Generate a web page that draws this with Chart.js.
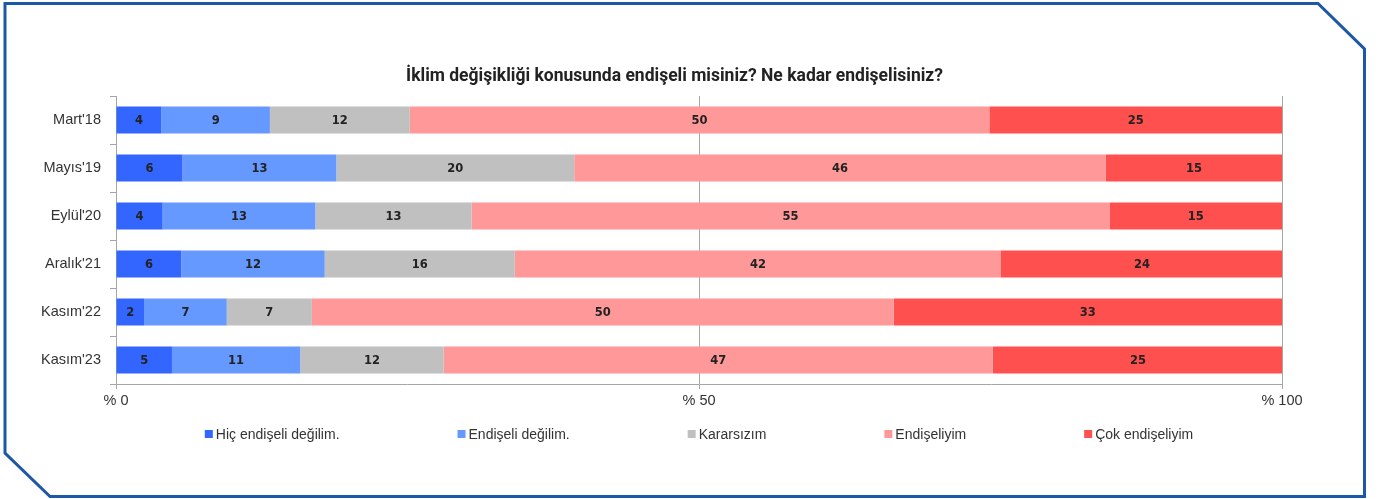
<!DOCTYPE html>
<html><head><meta charset="utf-8">
<script src="https://cdn.jsdelivr.net/npm/chart.js@4.4.1/dist/chart.umd.min.js"></script>
<style>html,body{margin:0;padding:0;background:#fff;} canvas{display:block;}</style>
</head><body>
<canvas id="c" width="1382" height="499"></canvas>
<script>
const categories = ["Mart'18", "Mayıs'19", "Eylül'20", "Aralık'21", "Kasım'22", "Kasım'23"];
const seriesNames = ["Hiç endişeli değilim.", "Endişeli değilim.", "Kararsızım", "Endişeliyim", "Çok endişeliyim"];
const hicEndiseliDegilim = [3.9, 5.7, 4.0, 5.6, 2.4, 4.8];
const endiseliDegilim   = [9.3, 13.2, 13.1, 12.3, 7.1, 11.0];
const kararsizim        = [12.0, 20.4, 13.4, 16.3, 7.3, 12.3];
const endiseliyim       = [49.7, 45.6, 54.7, 41.7, 49.9, 47.1];
const cokEndiseliyim    = [25.1, 15.1, 14.8, 24.2, 33.3, 24.9];
const tickValues = [0, 50, 100];
const tickPrefix = '% ';
const chartTitle = 'İklim değişikliği konusunda endişeli misiniz? Ne kadar endişelisiniz?';
const seriesColors = ['#3366FF', '#6699FF', '#C0C0C0', '#FF9999', '#FF5050'];

const seriesValues = [hicEndiseliDegilim, endiseliDegilim, kararsizim, endiseliyim, cokEndiseliyim];
const datasets = seriesNames.map((name, i) => ({
  label: name,
  data: seriesValues[i],
  backgroundColor: seriesColors[i],
  borderWidth: 0,
  barPercentage: 0.5625,
  categoryPercentage: 1.0
}));

const framePlugin = {
  id: 'frame',
  beforeDraw(chart) {
    const ctx = chart.ctx;
    ctx.save();
    ctx.fillStyle = '#fff';
    ctx.fillRect(0, 0, chart.width, chart.height);
    ctx.strokeStyle = '#1D58A6';
    ctx.lineWidth = 3;
    ctx.beginPath();
    ctx.moveTo(5, 3.5);
    ctx.lineTo(1318, 3.5);
    ctx.lineTo(1364.5, 49);
    ctx.lineTo(1364.5, 496.5);
    ctx.lineTo(50, 496.5);
    ctx.lineTo(5, 453);
    ctx.closePath();
    ctx.stroke();
    ctx.restore();
  }
};

const titlePlugin = {
  id: 'customTitle',
  afterDraw(chart) {
    const ctx = chart.ctx;
    ctx.save();
    ctx.font = 'bold 17.5px Roboto';
    ctx.fillStyle = '#222';
    ctx.textAlign = 'center';
    ctx.textBaseline = 'middle';
    ctx.fillText(chartTitle, 674.5, 77);
    ctx.restore();
  }
};

const valueLabelPlugin = {
  id: 'valueLabels',
  afterDatasetsDraw(chart) {
    const ctx = chart.ctx;
    ctx.save();
    ctx.font = 'bold 11.5px "DejaVu Sans"';
    ctx.fillStyle = '#222';
    ctx.textAlign = 'center';
    ctx.textBaseline = 'middle';
    chart.data.datasets.forEach((ds, di) => {
      const meta = chart.getDatasetMeta(di);
      meta.data.forEach((el, i) => {
        const p = el.getCenterPoint();
        ctx.fillText(String(Math.round(ds.data[i])), p.x, p.y + 1);
      });
    });
    ctx.restore();
  }
};

const legendPlugin = {
  id: 'customLegend',
  afterDraw(chart) {
    const ctx = chart.ctx;
    ctx.save();
    ctx.font = '14px "Liberation Sans"';
    ctx.textBaseline = 'middle';
    const box = 8, gapText = 3, gapItem = 118;
    const items = chart.data.datasets.map(ds => ({ text: ds.label, color: ds.backgroundColor, w: box + gapText + ctx.measureText(ds.label).width }));
    const total = items.reduce((s, it) => s + it.w, 0) + gapItem * (items.length - 1);
    const ca = chart.chartArea;
    let x = (ca.left + ca.right) / 2 - total / 2;
    const y = 434;
    items.forEach(it => {
      ctx.fillStyle = it.color;
      ctx.fillRect(x, y - box / 2, box, box);
      ctx.fillStyle = '#333';
      ctx.textAlign = 'left';
      ctx.fillText(it.text, x + box + gapText, y + 1);
      x += it.w + gapItem;
    });
    ctx.restore();
  }
};

new Chart(document.getElementById('c'), {
  type: 'bar',
  data: { labels: categories, datasets },
  options: {
    indexAxis: 'y',
    responsive: false,
    animation: false,
    layout: { padding: { left: 16, right: 100, top: 96, bottom: 83 } },
    plugins: {
      legend: { display: false },
      title: { display: false },
      tooltip: { enabled: false }
    },
    scales: {
      x: {
        stacked: true,
        min: 0, max: 100,
        afterBuildTicks(scale) { scale.ticks = tickValues.map(v => ({ value: v })); },
        afterFit(scale) { scale.height = 32; },
        ticks: {
          callback: v => tickPrefix + v,
          color: '#333',
          font: { family: 'Liberation Sans', size: 14.5 },
          padding: 3,
          maxRotation: 0
        },
        grid: { color: '#A6A6A6', tickLength: 5, drawTicks: true },
        border: { color: '#A6A6A6' }
      },
      y: {
        stacked: true,
        afterFit(scale) { scale.width = 100; },
        ticks: {
          color: '#333',
          font: { family: 'Liberation Sans', size: 14.5 },
          padding: 9
        },
        grid: { drawOnChartArea: false, offset: true, tickLength: 6, color: '#A6A6A6' },
        border: { color: '#A6A6A6' }
      }
    }
  },
  plugins: [framePlugin, titlePlugin, valueLabelPlugin, legendPlugin]
});
</script>
</body></html>
